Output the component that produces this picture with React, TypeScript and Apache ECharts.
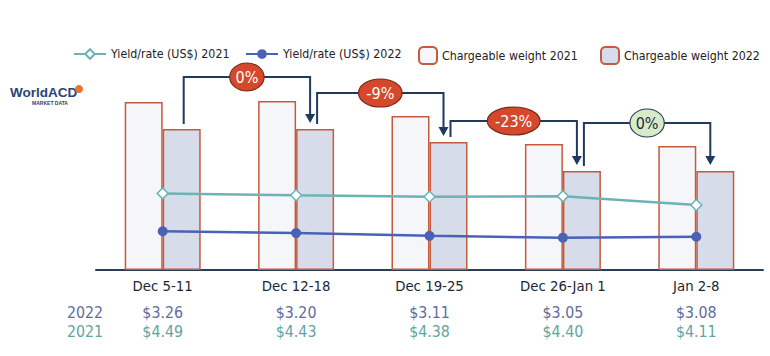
import React, { useEffect, useRef } from "react";
import * as echarts from "echarts";

const categories = ["Dec 5-11", "Dec 12-18", "Dec 19-25", "Dec 26-Jan 1", "Jan 2-8"];
const weight2021 = [168, 169, 154, 126, 124];
const weight2022 = [141, 141, 128, 99, 99];
const rate2021 = [4.49, 4.43, 4.38, 4.4, 4.11];
const rate2022 = [3.26, 3.2, 3.11, 3.05, 3.08];
const changeLabels = ["0%", "-9%", "-23%", "0%"];
const changeLevels = [193, 177, 149, 147];
const changeFlat = [false, false, false, true];

const FONT = "'Liberation Sans Narrow', 'DejaVu Sans Condensed', Lato, sans-serif";
const NAVY = "#1f3a5c";
const BAR_W = 38;

const seriesNames = ["Yield/rate (US$) 2021", "Yield/rate (US$) 2022", "Chargeable weight 2021", "Chargeable weight 2022"];

export default function App() {
  const ref = useRef<HTMLDivElement>(null);
  useEffect(() => {
    if (!ref.current) return;
    const chart = echarts.init(ref.current, null, { renderer: "svg" });
    const legendLefts = [68, 240, 413, 595];
    const option: any = {
      animation: false,
      backgroundColor: "#ffffff",
      textStyle: { fontFamily: FONT },
      grid: { left: 96, right: 7, top: 70, bottom: 86 },
      legend: seriesNames.map((n, i) => ({
        data: [n],
        left: legendLefts[i],
        top: i < 2 ? 43 : 41,
        itemWidth: i < 2 ? 32 : 18,
        itemHeight: i < 2 ? 12 : 17,
        itemGap: 8,
        textStyle: { fontSize: 12.3, color: "#222", fontFamily: FONT },
      })),
      xAxis: {
        type: "category",
        data: categories,
        axisLine: { lineStyle: { color: "#2b3d55", width: 2 } },
        axisTick: { show: false },
        axisLabel: { fontSize: 14.8, color: "#1b2838", margin: 8, fontFamily: FONT },
      },
      yAxis: [
        { type: "value", min: 0, max: 200, show: false, splitLine: { show: false } },
        { type: "value", min: 2, max: 8.5, show: false, splitLine: { show: false } },
      ],
      series: [
        {
          name: "Chargeable weight 2021",
          type: "bar",
          data: weight2021,
          barWidth: BAR_W,
          barGap: "0%",
          itemStyle: { color: "#f4f6fa", borderColor: "#c55a3c", borderWidth: 1.5 },
        },
        {
          name: "Chargeable weight 2022",
          type: "bar",
          data: weight2022,
          barWidth: BAR_W,
          barGap: "0%",
          itemStyle: { color: "#d6dce9", borderColor: "#c55a3c", borderWidth: 1.5 },
        },
        {
          name: "Yield/rate (US$) 2021",
          type: "line",
          yAxisIndex: 1,
          data: rate2021,
          symbol: "diamond",
          symbolSize: 11,
          z: 5,
          lineStyle: { color: "#6db3b5", width: 2.5 },
          itemStyle: { color: "#ffffff", borderColor: "#6db3b5", borderWidth: 1.5 },
        },
        {
          name: "Yield/rate (US$) 2022",
          type: "line",
          yAxisIndex: 1,
          data: rate2022,
          symbol: "circle",
          symbolSize: 10,
          z: 5,
          lineStyle: { color: "#4a62b5", width: 2.5 },
          itemStyle: { color: "#4a62b5" },
        },
      ],
    };
    chart.setOption(option);

    const cx = (i: number) => chart.convertToPixel({ xAxisIndex: 0 }, categories[i]) as number;
    const py = (v: number) => chart.convertToPixel({ yAxisIndex: 0 }, v) as number;

    const graphics: any[] = [];
    graphics.push({
      type: "text",
      x: 10,
      y: 92,
      style: { text: "WorldACD", fontSize: 13.5, fontWeight: "bold", fill: "#2a4478", fontFamily: "'Liberation Sans', Arial, sans-serif", verticalAlign: "middle" },
    });
    graphics.push({ type: "circle", shape: { cx: 79, cy: 89, r: 4 }, style: { fill: "#e8742e" } });
    graphics.push({
      type: "text",
      x: 50,
      y: 103,
      style: { text: "MARKET DATA", fontSize: 5, fontWeight: "bold", fill: "#2a4478", align: "center", verticalAlign: "middle" },
    });

    for (let i = 0; i < changeLabels.length; i++) {
      const x1 = cx(i) + BAR_W / 2 + 2;
      const x2 = cx(i + 1) + BAR_W / 2 - 5;
      const y1 = py(weight2022[i]) - 5;
      const y2 = py(weight2022[i + 1]) - 6;
      const yl = py(changeLevels[i]);
      graphics.push({
        type: "polyline",
        shape: { points: [[x1, y1], [x1, yl], [x2, yl], [x2, y2 - 8]] },
        style: { stroke: NAVY, lineWidth: 2, fill: null },
      });
      graphics.push({
        type: "polygon",
        shape: { points: [[x2 - 5, y2 - 9], [x2 + 5, y2 - 9], [x2, y2]] },
        style: { fill: NAVY },
      });
      const label = changeLabels[i];
      const rx = 8 + label.length * 4.6;
      const mx = (x1 + x2) / 2;
      graphics.push({
        type: "ellipse",
        shape: { cx: mx, cy: yl, rx, ry: 14 },
        style: {
          fill: changeFlat[i] ? "#d7ebc9" : "#d6482b",
          stroke: changeFlat[i] ? "#2b3d55" : "#7a2a1a",
          lineWidth: 1.2,
        },
      });
      graphics.push({
        type: "text",
        x: mx,
        y: yl,
        style: {
          text: label,
          fontSize: 16,
          fill: changeFlat[i] ? "#1f2d3d" : "#ffffff",
          align: "center",
          verticalAlign: "middle",
          fontFamily: FONT,
        },
      });
    }

    const rows = [
      { label: "2022", values: rate2022, color: "#5f6d9c", y: 312 },
      { label: "2021", values: rate2021, color: "#5fa5a1", y: 331 },
    ];
    rows.forEach((r) => {
      graphics.push({
        type: "text",
        x: 85,
        y: r.y,
        style: { text: r.label, fontSize: 15.8, fill: r.color, align: "center", verticalAlign: "middle", fontFamily: FONT },
      });
      r.values.forEach((v, i) => {
        graphics.push({
          type: "text",
          x: cx(i),
          y: r.y,
          style: { text: "$" + v.toFixed(2), fontSize: 15.8, fill: r.color, align: "center", verticalAlign: "middle", fontFamily: FONT },
        });
      });
    });

    chart.setOption({ graphic: graphics });
    return () => chart.dispose();
  }, []);
  return <div ref={ref} style={{ width: 770, height: 356, position: "absolute", left: 0, top: 0 }} />;
}
